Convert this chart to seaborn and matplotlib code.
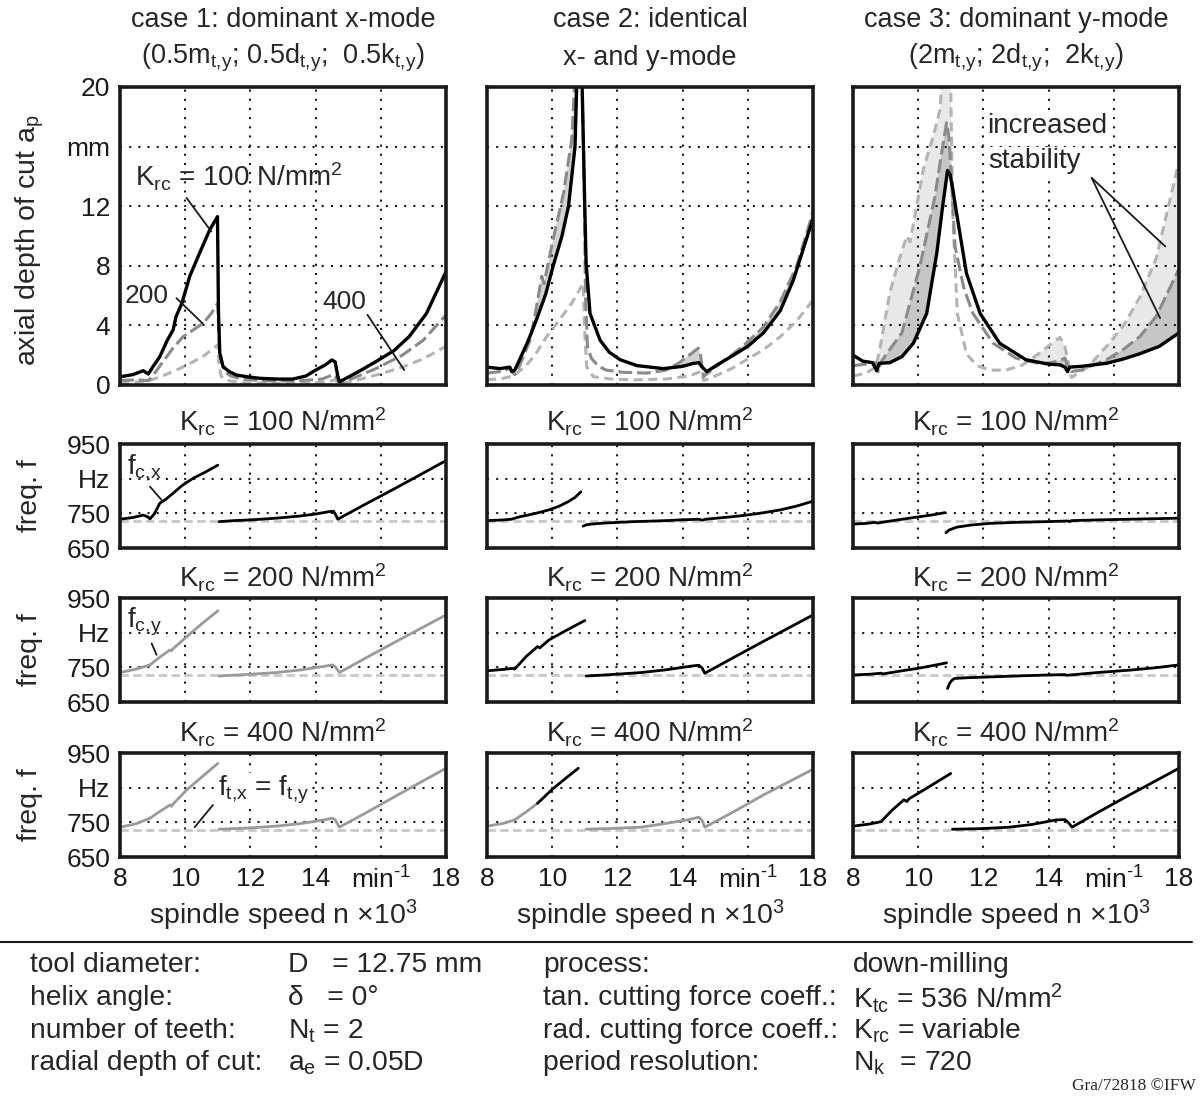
import numpy as np
import pandas as pd
import matplotlib
matplotlib.use("Agg")
import matplotlib.pyplot as plt
from matplotlib.lines import Line2D
import seaborn as sns

# ---------------- data: stability lobes (axial depth of cut a_p in mm) ----------------
# case 1: dominant x-mode
c1_k100_x = [8.0, 8.4, 8.71, 8.87, 9.0, 9.22, 9.45, 9.63, 9.72, 9.9, 10.14, 10.45, 10.75, 10.99, 11.02, 11.06, 11.16, 11.35, 11.57, 11.9, 12.28, 12.8, 13.3, 13.7, 14.0, 14.3, 14.5, 14.6, 14.68, 14.73, 15.03, 15.4, 15.85, 16.4, 16.87, 17.4, 18.0]
c1_k100_y = [0.55, 0.7, 0.96, 0.74, 1.2, 1.9, 3.0, 3.7, 4.6, 5.5, 7.3, 8.9, 10.4, 11.3, 5.0, 2.15, 1.23, 0.9, 0.67, 0.55, 0.45, 0.4, 0.4, 0.6, 1.0, 1.35, 1.68, 1.55, 0.6, 0.22, 0.56, 1.0, 1.57, 2.3, 3.25, 4.8, 7.6]
c1_k200_x = [8.0, 8.5, 8.87, 9.0, 9.32, 9.6, 9.94, 10.25, 10.55, 10.8, 11.0, 11.03, 11.06, 11.2, 11.4, 11.77, 12.5, 13.5, 14.2, 14.55, 14.62, 14.75, 15.2, 15.85, 16.66, 17.3, 18.0]
c1_k200_y = [0.3, 0.35, 0.3, 0.6, 1.57, 2.4, 3.25, 3.7, 4.14, 4.8, 5.5, 3.5, 2.15, 0.9, 0.6, 0.38, 0.28, 0.28, 0.4, 0.7, 0.55, 0.1, 0.5, 1.1, 2.0, 3.0, 4.7]
c1_k400_x = [8.0, 8.5, 8.9, 9.3, 9.73, 10.2, 10.6, 11.0, 11.03, 11.1, 11.3, 11.8, 12.5, 13.5, 14.3, 14.6, 14.75, 15.3, 16.0, 16.66, 17.3, 18.0]
c1_k400_y = [0.15, 0.2, 0.3, 0.6, 1.0, 1.5, 2.0, 2.7, 1.5, 0.6, 0.3, 0.15, 0.12, 0.12, 0.2, 0.35, 0.05, 0.35, 0.75, 1.2, 1.75, 2.6]

# case 2: identical x- and y-mode
c2_k100_x = [8.0, 8.4, 8.7, 8.76, 8.85, 9.0, 9.25, 9.52, 9.8, 10.03, 10.3, 10.5, 10.7, 10.8, 10.88, 10.98, 11.04, 11.16, 11.47, 11.75, 12.08, 12.6, 13.41, 14.0, 14.33, 14.5, 14.6, 14.74, 15.1, 15.56, 16.0, 16.48, 17.0, 17.4, 17.96, 18.0]
c2_k100_y = [1.2, 1.1, 1.2, 0.9, 1.0, 1.7, 2.9, 4.4, 6.1, 8.0, 10.0, 12.0, 16.0, 24.0, 24.0, 13.8, 8.2, 4.8, 3.0, 2.2, 1.7, 1.3, 1.1, 1.25, 1.45, 1.5, 1.2, 0.9, 1.4, 2.0, 2.6, 3.5, 5.0, 7.06, 10.9, 11.2]
c2_k200_x = [8.0, 8.4, 8.7, 8.85, 9.0, 9.32, 9.5, 9.68, 9.75, 10.0, 10.35, 10.6, 10.78, 10.9, 10.98, 11.02, 11.08, 11.2, 11.4, 11.65, 12.2, 12.9, 13.5, 13.9, 14.2, 14.48, 14.55, 14.64, 15.0, 15.56, 16.0, 16.48, 17.0, 17.5, 17.96, 18.0]
c2_k200_y = [0.8, 0.9, 1.1, 0.7, 1.3, 3.0, 5.0, 7.3, 6.8, 9.5, 12.9, 16.5, 24.0, 22.0, 13.8, 6.0, 2.6, 1.8, 1.3, 1.0, 0.85, 0.8, 1.0, 1.5, 2.0, 2.47, 2.0, 0.56, 1.2, 2.1, 2.9, 3.9, 5.6, 8.0, 11.3, 11.8]
c2_k400_x = [8.0, 8.5, 8.8, 9.2, 9.5, 9.83, 10.2, 10.6, 10.95, 11.0, 11.06, 11.26, 11.8, 12.5, 13.5, 14.2, 14.55, 14.65, 15.0, 15.5, 15.97, 16.5, 17.0, 17.5, 18.0]
c2_k400_y = [0.35, 0.45, 0.6, 1.3, 2.1, 3.25, 4.3, 5.5, 6.8, 3.5, 1.2, 0.56, 0.4, 0.35, 0.4, 0.6, 0.9, 0.3, 0.6, 1.1, 1.7, 2.4, 3.25, 4.3, 5.7]

# case 3: dominant y-mode
c3_k100_x = [8.0, 8.3, 8.6, 8.73, 8.8, 9.13, 9.5, 9.85, 10.26, 10.57, 10.75, 10.9, 10.98, 11.05, 11.18, 11.48, 11.9, 12.5, 13.3, 14.0, 14.35, 14.5, 14.58, 14.65, 15.0, 15.78, 16.3, 16.8, 17.4, 18.0]
c3_k100_y = [2.0, 1.6, 1.5, 0.95, 1.45, 1.5, 1.9, 2.8, 4.8, 8.85, 12.0, 14.4, 14.1, 13.3, 11.5, 7.5, 4.8, 2.8, 1.7, 1.4, 1.35, 1.2, 0.9, 1.2, 1.25, 1.46, 1.75, 2.1, 2.6, 3.5]
c3_k200_x = [8.0, 8.4, 8.7, 8.78, 8.85, 9.0, 9.5, 10.05, 10.5, 10.75, 10.87, 10.95, 11.13, 11.4, 11.68, 12.3, 13.0, 13.8, 14.3, 14.5, 14.6, 14.7, 15.0, 15.78, 16.3, 16.8, 17.3, 17.87, 18.0]
c3_k200_y = [1.3, 1.4, 1.5, 0.9, 1.5, 2.0, 3.5, 7.95, 12.5, 16.0, 17.6, 16.5, 9.3, 6.5, 4.8, 2.8, 1.8, 1.4, 1.6, 1.8, 1.2, 0.9, 1.0, 1.7, 2.4, 3.25, 4.6, 7.2, 7.8]
c3_k400_x = [8.0, 8.4, 8.7, 8.83, 9.13, 9.4, 9.65, 9.75, 10.16, 10.5, 10.67, 10.8, 10.95, 11.0, 11.06, 11.2, 11.48, 11.8, 12.2, 12.7, 13.2, 13.7, 14.1, 14.35, 14.5, 14.6, 14.7, 15.2, 15.78, 16.3, 16.8, 17.3, 17.87, 18.0]
c3_k400_y = [0.6, 0.8, 1.2, 2.5, 6.2, 8.3, 10.0, 9.6, 14.5, 17.0, 18.5, 23.0, 23.0, 19.8, 11.5, 4.8, 2.1, 1.3, 1.0, 1.0, 1.35, 2.1, 2.8, 3.2, 2.6, 1.5, 0.5, 1.2, 2.6, 4.0, 5.9, 8.5, 13.8, 15.0]

# ---------------- data: chatter frequencies (Hz) ----------------
f_tool = 728  # tool natural frequency f_t,x = f_t,y
# K_rc = 100
f1c1_a_x = [8.0, 8.4, 8.71, 8.85, 8.92, 9.05, 9.22, 9.4, 9.5, 9.63, 9.9, 10.24, 10.6, 11.0]
f1c1_a_f = [733, 738, 745, 740, 734, 748, 779, 790, 798, 808, 830, 851, 868, 889]
f1c1_b_x = [11.04, 11.5, 12.0, 12.79, 13.5, 14.0, 14.42, 14.55, 14.62, 14.68, 15.5, 16.5, 17.94, 18.0]
f1c1_b_f = [726, 729, 731, 736, 742, 748, 755, 756, 745, 733, 775, 825, 899, 902]
f1c2_a_x = [8.0, 8.5, 8.75, 9.0, 9.5, 9.9, 10.2, 10.5, 10.7, 10.88]
f1c2_a_f = [729, 731, 733, 740, 750, 760, 770, 784, 796, 812]
f1c2_b_x = [10.95, 11.05, 11.2, 11.6, 12.5, 13.5, 13.92, 14.5, 14.6, 14.7, 15.5, 15.97, 16.5, 17.0, 17.5, 18.0]
f1c2_b_f = [713, 717, 719, 722, 726, 729, 731, 733, 730, 733, 740, 745, 752, 760, 771, 785]
f1c3_a_x = [8.0, 8.4, 8.68, 8.75, 9.3, 9.95, 10.4, 10.82]
f1c3_a_f = [719, 721, 724, 722, 730, 739, 745, 752]
f1c3_b_x = [10.85, 10.95, 11.18, 11.6, 12.2, 13.0, 13.94, 14.6, 14.65, 14.7, 15.5, 16.5, 17.98]
f1c3_b_f = [694, 702, 710, 716, 721, 724, 726, 728, 726, 729, 731, 733, 736]
# K_rc = 200
f2c1_a_x = [8.0, 8.5, 8.92, 9.2, 9.53, 9.58, 9.62, 10.04, 10.5, 11.0]
f2c1_a_f = [735, 745, 757, 778, 800, 798, 803, 838, 875, 913]
f2c1_b_x = [11.04, 12.0, 12.79, 13.5, 14.2, 14.52, 14.6, 14.73, 15.5, 16.5, 17.94, 18.0]
f2c1_b_f = [725, 730, 735, 742, 752, 757, 752, 735, 775, 826, 898, 901]
f2c2_a_x = [8.0, 8.5, 8.78, 8.85, 9.2, 9.55, 9.62, 9.9, 10.4, 11.0]
f2c2_a_f = [740, 744, 747, 745, 781, 810, 806, 829, 855, 885]
f2c2_b_x = [11.04, 11.8, 12.73, 13.5, 14.3, 14.5, 14.6, 14.68, 15.5, 16.5, 18.0]
f2c2_b_f = [725, 729, 735, 743, 754, 756, 748, 733, 775, 826, 901]
f2c3_a_x = [8.0, 8.5, 8.86, 8.92, 9.5, 9.99, 10.5, 10.87]
f2c3_a_f = [728, 730, 733, 731, 740, 747, 756, 763]
f2c3_b_x = [10.9, 10.97, 11.05, 11.12, 11.5, 12.1, 13.0, 14.0, 14.5, 14.55, 15.5, 16.5, 17.3, 18.0]
f2c3_b_f = [689, 705, 714, 718, 720, 722, 725, 728, 729, 727, 735, 742, 749, 757]
# K_rc = 400
f3c1_a_x = [8.0, 8.5, 8.92, 9.2, 9.53, 9.58, 9.62, 10.04, 10.5, 11.0]
f3c1_a_f = [736, 746, 762, 780, 800, 796, 802, 843, 880, 920]
f3c1_b_x = [11.04, 12.0, 12.79, 13.5, 14.2, 14.52, 14.6, 14.73, 15.5, 16.5, 17.94, 18.0]
f3c1_b_f = [730, 734, 739, 746, 756, 762, 757, 736, 775, 828, 903, 906]
f3c2_a_x = [8.0, 8.5, 8.85, 9.2, 9.55]
f3c2_a_f = [739, 747, 757, 780, 805]
f3c2_k_x = [9.55, 10.0, 10.4, 10.8]
f3c2_k_f = [805, 845, 876, 906]
f3c2_b_x = [11.04, 12.0, 12.73, 13.5, 14.2, 14.5, 14.6, 14.68, 15.5, 16.5, 18.0]
f3c2_b_f = [730, 733, 736, 747, 758, 765, 755, 736, 777, 830, 903]
f3c3_a_x = [8.0, 8.5, 8.86, 9.2, 9.56, 9.65, 9.72, 10.2, 10.6, 11.0]
f3c3_a_f = [739, 745, 752, 785, 815, 810, 818, 845, 868, 891]
f3c3_b_x = [11.05, 12.0, 12.8, 13.5, 14.23, 14.5, 14.62, 14.72, 15.5, 16.5, 18.0]
f3c3_b_f = [730, 732, 736, 744, 757, 758, 748, 736, 778, 830, 906]

# ---------------- text ----------------
col_titles = [("case 1: dominant x-mode", "(0.5m$_{t{,}y}$; 0.5d$_{t{,}y}$;  0.5k$_{t{,}y}$)"),
              ("case 2: identical", "x- and y-mode"),
              ("case 3: dominant y-mode", "(2m$_{t{,}y}$; 2d$_{t{,}y}$;  2k$_{t{,}y}$)")]
krc_values = [100, 200, 400]
x_ticks = [8, 10, 12, 14, 16, 18]
x_ticklabels = ["8", "10", "12", "14", "min$^{\u2010 1}$", "18"]
ap_ticks = [0, 4, 8, 12, 16, 20]
ap_ticklabels = ["0", "4", "8", "12", "mm", "20"]
f_ticks = [650, 750, 850, 950]
f_ticklabels = ["650", "750", "Hz", "950"]
info_rows = [("tool diameter:", "D   = 12.75 mm", "process:", "down-milling"),
             ("helix angle:", "δ   = 0°", "tan. cutting force coeff.:", "K$_{tc}$ = 536 N/mm$^{2}$"),
             ("number of teeth:", "N$_{t}$ = 2", "rad. cutting force coeff.:", "K$_{rc}$ = variable"),
             ("radial depth of cut:", "a$_{e}$ = 0.05D", "period resolution:", "N$_{k}$  = 720")]

# ---------------- style ----------------
sns.set_theme(style="white")
plt.rcParams['font.family'] = ['Liberation Sans', 'DejaVu Sans']
plt.rcParams['mathtext.fontset'] = 'custom'
plt.rcParams['mathtext.rm'] = 'Liberation Sans'
plt.rcParams['mathtext.it'] = 'Liberation Sans:italic'
plt.rcParams['mathtext.default'] = 'regular'

FS = 19          # tick labels / annotations
FS_TITLE = 19.5  # column titles
FS_ROW = 20      # K_rc row titles
FS_LAB = 20.5    # axis labels
FS_INFO = 20.3   # parameter table
BLACK = '#000000'
MID = '#8a8a8a'
LIGHT = '#b4b4b4'
FGRAY = '#9a9a9a'
DASH_MID = (0, (4.5, 1.6))
DASH_LIGHT = (0, (3.0, 1.8))
GRID_LS = (0, (1, 3.4))

W, H = 1200, 1097
fig = plt.figure(figsize=(W / 100, H / 100), dpi=100)


def ax_px(l, t, w, h):
    return fig.add_axes([l / W, 1 - (t + h) / H, w / W, h / H])


def line(ax, x, y, color, lw, ls='-', z=3):
    df = pd.DataFrame({"n": x, "v": y})
    sns.lineplot(data=df, x="n", y="v", ax=ax, color=color, linewidth=lw,
                 linestyle=ls, sort=False, estimator=None, zorder=z)


def frame(ax, ylim, yticks, yticklabels, hgrid, show_y, show_x):
    ax.set_xlim(8, 18)
    ax.set_ylim(*ylim)
    ax.set_xlabel("")
    ax.set_ylabel("")
    ax.grid(False)
    for v in [10, 12, 14, 16]:
        ax.axvline(v, color='k', lw=1.5, ls=GRID_LS, zorder=1)
    for h in hgrid:
        ax.axhline(h, color='k', lw=1.5, ls=GRID_LS, zorder=1)
    for s in ax.spines.values():
        s.set_color('k')
        s.set_linewidth(2.6)
        s.set_zorder(5)
    ax.set_xticks(x_ticks)
    ax.set_yticks(yticks)
    ax.tick_params(length=0, labelsize=FS, pad=7, colors='k')
    if show_y:
        ax.set_yticklabels(yticklabels)
    else:
        ax.set_yticklabels([])
    if show_x:
        ax.set_xticklabels(x_ticklabels)
    else:
        ax.set_xticklabels([])


col_left = [120, 487, 853]
col_w = 326

tops = [
    (c1_k100_x, c1_k100_y, c1_k200_x, c1_k200_y, c1_k400_x, c1_k400_y),
    (c2_k100_x, c2_k100_y, c2_k200_x, c2_k200_y, c2_k400_x, c2_k400_y),
    (c3_k100_x, c3_k100_y, c3_k200_x, c3_k200_y, c3_k400_x, c3_k400_y),
]
grid_n = np.linspace(8, 18, 4001)

for ci, (bx, by, mx, my, lx, ly) in enumerate(tops):
    ax = ax_px(col_left[ci], 87, col_w, 298)
    if ci > 0:
        b = np.interp(grid_n, bx, by)
        m = np.interp(grid_n, mx, my)
        l = np.interp(grid_n, lx, ly)
        if ci == 1:
            ax.fill_between(grid_n, b, m, where=m > b, color='#d2d2d2', lw=0, zorder=0.5)
        else:
            top_bm = np.maximum(b, m)
            ax.fill_between(grid_n, top_bm, l, where=l > top_bm, color='#e8e8e8', lw=0, zorder=0.5)
            ax.fill_between(grid_n, b, m, where=m > b, color='#c6c6c6', lw=0, zorder=0.6)
    line(ax, lx, ly, LIGHT, 2.2, DASH_LIGHT)
    line(ax, mx, my, MID, 2.2, DASH_MID)
    line(ax, bx, by, BLACK, 2.4, '-')
    frame(ax, (0, 20), ap_ticks, ap_ticklabels, [4, 8, 12, 16], ci == 0, False)
    if ci == 0:
        ax.text(0.045, 0.70, "K$_{rc}$ = 100 N/mm$^{2}$", transform=ax.transAxes, fontsize=FS_ROW, va='center', ha='left')
        ax.plot([10.04, 10.8], [12.56, 10.3], color='k', lw=1.3, zorder=4)
        ax.text(8.15, 5.95, "200", fontsize=FS, va='center', ha='left')
        ax.plot([9.73, 10.55], [5.83, 4.1], color='k', lw=1.3, zorder=4)
        ax.text(14.2, 5.55, "400", fontsize=FS, va='center', ha='left')
        ax.plot([15.59, 16.72], [4.71, 1.0], color='k', lw=1.3, zorder=4)
    if ci == 2:
        ax.text(12.1, 17.4, "increased", fontsize=FS_ROW, va='center', ha='left',
                bbox=dict(facecolor='white', edgecolor='none', pad=0.5), zorder=4)
        ax.text(12.15, 15.05, "stability", fontsize=FS_ROW, va='center', ha='left',
                bbox=dict(facecolor='white', edgecolor='none', pad=0.5), zorder=4)
        ax.plot([15.32, 17.58], [13.9, 9.3], color='k', lw=1.3, zorder=4)
        ax.plot([15.32, 17.42], [13.9, 4.49], color='k', lw=1.3, zorder=4)
    fig.text((col_left[ci] + col_w / 2) / W, 1 - 20 / H, col_titles[ci][0], fontsize=FS_TITLE, ha='center', va='center')
    fig.text((col_left[ci] + col_w / 2) / W, 1 - 58 / H, col_titles[ci][1], fontsize=FS_TITLE, ha='center', va='center')

freq = [
    [[(f1c1_a_x, f1c1_a_f, BLACK), (f1c1_b_x, f1c1_b_f, BLACK)],
     [(f1c2_a_x, f1c2_a_f, BLACK), (f1c2_b_x, f1c2_b_f, BLACK)],
     [(f1c3_a_x, f1c3_a_f, BLACK), (f1c3_b_x, f1c3_b_f, BLACK)]],
    [[(f2c1_a_x, f2c1_a_f, FGRAY), (f2c1_b_x, f2c1_b_f, FGRAY)],
     [(f2c2_a_x, f2c2_a_f, BLACK), (f2c2_b_x, f2c2_b_f, BLACK)],
     [(f2c3_a_x, f2c3_a_f, BLACK), (f2c3_b_x, f2c3_b_f, BLACK)]],
    [[(f3c1_a_x, f3c1_a_f, FGRAY), (f3c1_b_x, f3c1_b_f, FGRAY)],
     [(f3c2_a_x, f3c2_a_f, FGRAY), (f3c2_k_x, f3c2_k_f, BLACK), (f3c2_b_x, f3c2_b_f, FGRAY)],
     [(f3c3_a_x, f3c3_a_f, BLACK), (f3c3_b_x, f3c3_b_f, BLACK)]],
]
row_tops = [444, 598, 753]
row_title_y = [422, 578, 733]

for ri in range(3):
    for ci in range(3):
        ax = ax_px(col_left[ci], row_tops[ri], col_w, 104)
        ax.axhline(f_tool, color='#c8c8c8', lw=2.0, ls=(0, (3, 1.6)), zorder=2)
        for sx, sf, colr in freq[ri][ci]:
            line(ax, sx, sf, colr, 2.0, '-')
        frame(ax, (650, 950), f_ticks, f_ticklabels, [750, 850], ci == 0, ri == 2)
        fig.text((col_left[ci] + col_w / 2) / W, 1 - row_title_y[ri] / H,
                 f"K$_{{rc}}$ = {krc_values[ri]} N/mm$^{{2}}$", fontsize=FS_ROW, ha='center', va='center')
        if ci == 0 and ri == 0:
            ax.text(8.2, 882, "f$_{c{,}x}$", fontsize=FS_ROW, ha='left', va='center')
            ax.plot([8.92, 9.28], [827, 788], color='k', lw=1.3, zorder=4)
        if ci == 0 and ri == 1:
            ax.text(8.2, 880, "f$_{c{,}y}$", fontsize=FS_ROW, ha='left', va='center')
            ax.plot([8.97, 9.12], [819, 786], color='k', lw=1.3, zorder=4)
        if ci == 0 and ri == 2:
            ax.text(11.0, 844, "f$_{t{,}x}$ = f$_{t{,}y}$", fontsize=FS_ROW, ha='left', va='center',
                    bbox=dict(facecolor='white', edgecolor='none', pad=0.5), zorder=4)
            ax.plot([10.85, 10.29], [800, 736], color='k', lw=1.3, zorder=4)
    fig.text(30 / W, 1 - (row_tops[ri] + 52) / H, "freq. f", fontsize=FS_LAB, rotation=90, ha='center', va='center')

fig.text(30 / W, 1 - 240 / H, "axial depth of cut a$_{p}$", fontsize=FS_LAB, rotation=90, ha='center', va='center')
for ci in range(3):
    fig.text((col_left[ci] + col_w / 2) / W, 1 - 915 / H, "spindle speed n ×10$^{3}$", fontsize=FS_LAB, ha='center', va='center')

fig.add_artist(Line2D([0, 1192 / W], [1 - 942 / H, 1 - 942 / H], color='k', lw=1.5))

row_y = [965, 998, 1031, 1063]
col_x = [30, 288, 543, 853]
for r, vals in enumerate(info_rows):
    for c, s in enumerate(vals):
        fig.text(col_x[c] / W, 1 - row_y[r] / H, s, fontsize=FS_INFO, ha='left', va='center')

fig.text(1196 / W, 1 - 1086 / H, "Gra/72818 ©IFW", fontsize=12.5, ha='right', va='center',
         family=['Liberation Serif', 'DejaVu Serif'])

fig.savefig("out.png", dpi=100)
